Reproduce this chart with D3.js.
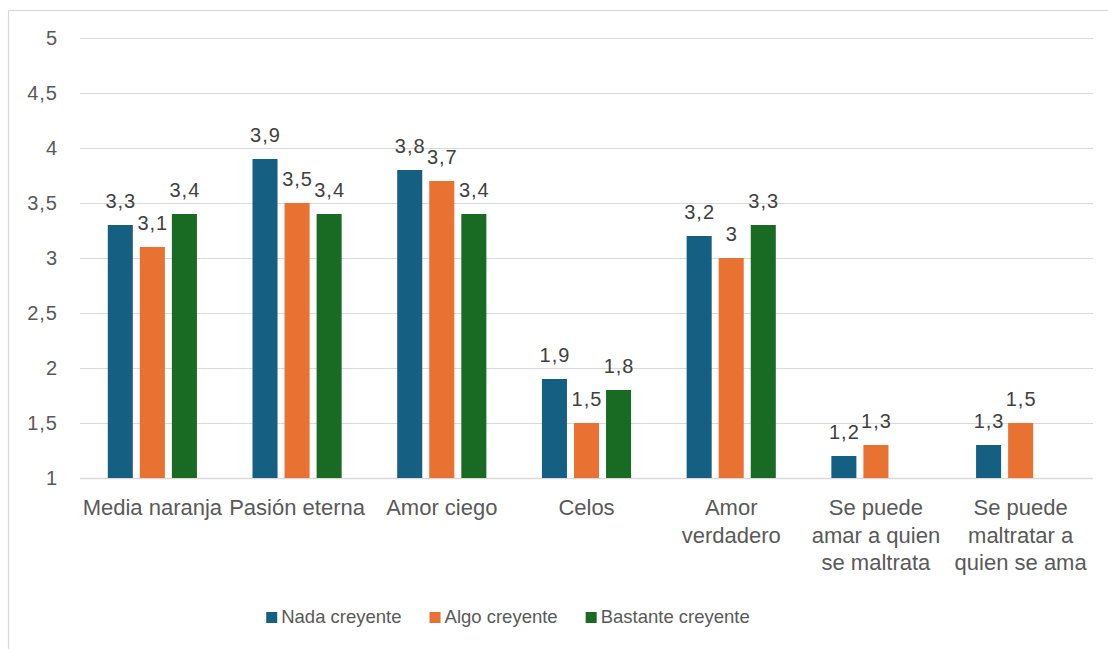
<!DOCTYPE html>
<html>
<head>
<meta charset="utf-8">
<script src="https://cdn.jsdelivr.net/npm/d3@7"></script>
<style>
  body { margin: 0; background: #fff; }
  svg { display: block; font-family: "Liberation Sans", Arial, sans-serif; }
</style>
</head>
<body>
<div id="chart"></div>
<script>
// Datos del grafico
var categorias = [
  "Media naranja",
  "Pasión eterna",
  "Amor ciego",
  "Celos",
  "Amor\nverdadero",
  "Se puede\namar a quien\nse maltrata",
  "Se puede\nmaltratar a\nquien se ama"
];
var series = ["Nada creyente", "Algo creyente", "Bastante creyente"];
var nadaCreyente = [3.3, 3.9, 3.8, 1.9, 3.2, 1.2, 1.3];
var algoCreyente = [3.1, 3.5, 3.7, 1.5, 3.0, 1.3, 1.5];
var bastanteCreyente = [3.4, 3.4, 3.4, 1.8, 3.3, null, null];
var ticksY = [1, 1.5, 2, 2.5, 3, 3.5, 4, 4.5, 5];
var colores = ["#156082", "#E97132", "#196B24"];

var valores = [nadaCreyente, algoCreyente, bastanteCreyente];

var width = 1108, height = 649;
var margin = { left: 80, right: 15, top: 38, bottom: 171 };

var svg = d3.select("#chart").append("svg")
  .attr("width", width)
  .attr("height", height);

// Borde del area del grafico (recortado a la derecha y abajo)
svg.append("rect")
  .attr("x", 8.5).attr("y", 10.5)
  .attr("width", width).attr("height", height)
  .attr("fill", "none")
  .attr("stroke", "#D9D9D9")
  .attr("stroke-width", 1.2);

var x0 = d3.scaleBand()
  .domain(categorias)
  .range([margin.left, width - margin.right])
  .paddingInner(0.384)
  .paddingOuter(0.192);

var x1 = d3.scaleBand()
  .domain(series)
  .range([0, x0.bandwidth()])
  .paddingInner(0.219);

var y = d3.scaleLinear()
  .domain([1, 5])
  .range([height - margin.bottom, margin.top]);

var coma = function (d) { return String(d).replace(".", ","); };

// Lineas de la cuadricula
var ejeY = d3.axisLeft(y)
  .tickValues(ticksY)
  .tickSize(-(width - margin.right - margin.left))
  .tickPadding(22)
  .tickFormat(coma);

var gy = svg.append("g")
  .attr("transform", "translate(" + margin.left + ",0)")
  .call(ejeY);
gy.select(".domain").remove();
gy.selectAll(".tick line")
  .attr("stroke", "#D9D9D9")
  .attr("stroke-width", function (d) { return d === 1 ? 1.6 : 1.2; });
gy.selectAll(".tick text")
  .attr("fill", "#595959")
  .attr("font-size", 20)
  .attr("letter-spacing", 1)
  .attr("font-family", "Liberation Sans, Arial, sans-serif");

// Barras
var grupos = svg.append("g").selectAll("g")
  .data(series)
  .enter().append("g")
  .attr("fill", function (d, i) { return colores[i]; });

grupos.each(function (s, si) {
  var g = d3.select(this);
  var datos = categorias.map(function (c, ci) {
    return { cat: c, v: valores[si][ci] };
  }).filter(function (d) { return d.v != null; });

  g.selectAll("rect")
    .data(datos)
    .enter().append("rect")
    .attr("x", function (d) { return x0(d.cat) + x1(s); })
    .attr("y", function (d) { return y(d.v); })
    .attr("width", x1.bandwidth())
    .attr("height", function (d) { return y(1) - y(d.v); });

  // Etiquetas de valor
  g.selectAll("text")
    .data(datos)
    .enter().append("text")
    .attr("x", function (d) { return x0(d.cat) + x1(s) + x1.bandwidth() / 2 + 0.5; })
    .attr("y", function (d) { return y(d.v) - 17; })
    .attr("text-anchor", "middle")
    .attr("fill", "#404040")
    .attr("font-size", 20)
    .attr("letter-spacing", 1)
    .text(function (d) { return coma(d.v); });
});

// Etiquetas de categorias
var etiquetas = svg.append("g").selectAll("text")
  .data(categorias)
  .enter().append("text")
  .attr("x", function (d) { return x0(d) + x0.bandwidth() / 2; })
  .attr("y", y(1) + 37)
  .attr("text-anchor", "middle")
  .attr("fill", "#595959")
  .attr("font-size", 22);

etiquetas.each(function (d) {
  var t = d3.select(this);
  var xx = t.attr("x");
  d.split("\n").forEach(function (linea, i) {
    t.append("tspan")
      .attr("x", xx)
      .attr("dy", i === 0 ? 0 : 27.7)
      .text(linea);
  });
});

// Leyenda
var leyenda = svg.append("g");
var items = leyenda.selectAll("g")
  .data(series)
  .enter().append("g");

items.append("rect")
  .attr("width", 11).attr("height", 11)
  .attr("y", -11)
  .attr("fill", function (d, i) { return colores[i]; });

items.append("text")
  .attr("x", 15)
  .attr("y", 0)
  .attr("fill", "#595959")
  .attr("font-size", 18.5)
  .text(function (d) { return d; });

var pos = 0;
items.each(function () {
  var w = this.getBBox().width;
  d3.select(this).attr("transform", "translate(" + pos + ",0)");
  pos += w + 28;
});
var totalLeyenda = pos - 28;
leyenda.attr("transform", "translate(" + (508 - totalLeyenda / 2) + ",623)");
</script>
</body>
</html>
